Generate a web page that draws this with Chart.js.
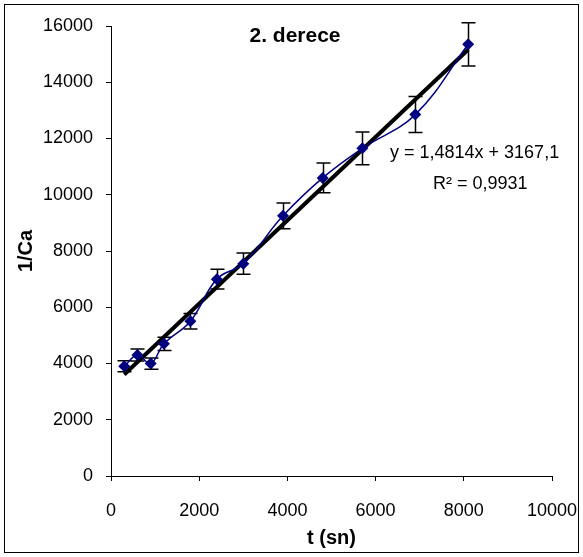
<!DOCTYPE html>
<html>
<head>
<meta charset="utf-8">
<script src="https://cdn.jsdelivr.net/npm/chart.js@4.4.1/dist/chart.umd.min.js"></script>
<style>
  html, body { margin: 0; padding: 0; background: #fff; }
  canvas { display: block; }
</style>
</head>
<body>
<canvas id="grafik" width="583" height="557"></canvas>
<script>
// veriler
const sureler = [300, 600, 900, 1200, 1800, 2400, 3000, 3900, 4800, 5700, 6900, 8100];
const tersCa = [3900, 4300, 4000, 4700, 5500, 7000, 7550, 9250, 10600, 11650, 12850, 15350];
const hatalar = [195, 215, 200, 235, 275, 350, 380, 460, 530, 580, 640, 770];
const xTicks = [0, 2000, 4000, 6000, 8000, 10000];
const yTicks = [0, 2000, 4000, 6000, 8000, 10000, 12000, 14000, 16000];
// eğilim çizgisi (y = 1,4814x + 3167,1)
const egim = 1.4814;
const sabit = 3167.1;

const noktalar = sureler.map((t, i) => ({ x: t, y: tersCa[i] }));
const xIlk = sureler[0], xSon = sureler[sureler.length - 1];
const egilim = [
    { x: xIlk, y: egim * xIlk + sabit },
    { x: xSon, y: egim * xSon + sabit }
];

const FONT = "'Liberation Sans', Arial, sans-serif";

// hata çubukları
const hataCubuklari = {
    id: 'hataCubuklari',
    beforeDatasetsDraw(chart) {
        const ctx = chart.ctx, xs = chart.scales.x, ys = chart.scales.y;
        ctx.save();
        ctx.strokeStyle = '#000';
        ctx.lineWidth = 1.5;
        sureler.forEach((t, i) => {
            const px = Math.round(xs.getPixelForValue(t)) + 0.5;
            const ust = ys.getPixelForValue(tersCa[i] + hatalar[i]);
            const alt = ys.getPixelForValue(tersCa[i] - hatalar[i]);
            ctx.beginPath();
            ctx.moveTo(px, ust); ctx.lineTo(px, alt);
            ctx.moveTo(px - 7, ust); ctx.lineTo(px + 7, ust);
            ctx.moveTo(px - 7, alt); ctx.lineTo(px + 7, alt);
            ctx.stroke();
        });
        ctx.restore();
    }
};

// başlık, denklem ve çerçeve
const yazilar = {
    id: 'yazilar',
    afterDraw(chart) {
        const ctx = chart.ctx;
        ctx.save();
        ctx.fillStyle = '#000';
        ctx.textBaseline = 'middle';
        ctx.font = 'bold 21px ' + FONT;
        ctx.textAlign = 'center';
        ctx.fillText('2. derece', 295, 36);
        ctx.font = '18px ' + FONT;
        ctx.textAlign = 'left';
        ctx.fillText('y = 1,4814x + 3167,1', 390, 153);
        ctx.fillText('R² = 0,9931', 433, 184);
        ctx.strokeStyle = '#000';
        ctx.lineWidth = 1;
        ctx.strokeRect(4.5, 4.5, 574, 548);
        ctx.restore();
    }
};

new Chart(document.getElementById('grafik'), {
    type: 'scatter',
    data: {
        datasets: [{
            label: '1/Ca',
            data: noktalar,
            showLine: true,
            tension: 0.4,
            borderColor: '#000080',
            borderWidth: 1.5,
            backgroundColor: '#000080',
            pointStyle: 'rectRot',
            pointRadius: 6,
            pointBorderWidth: 0
        },
        {
            label: 'Doğrusal',
            data: egilim,
            showLine: true,
            borderColor: '#000',
            borderWidth: 4,
            pointRadius: 0
        }]
    },
    plugins: [hataCubuklari, yazilar],
    options: {
        responsive: false,
        animation: false,
        layout: { padding: { top: 26, right: 31, left: 0, bottom: 0 } },
        plugins: {
            legend: { display: false },
            tooltip: { enabled: false }
        },
        scales: {
            x: {
                type: 'linear',
                min: 0,
                max: 10000,
                afterBuildTicks: s => { s.ticks = xTicks.map(v => ({ value: v })); },
                afterFit: s => { s.height = 81; s.paddingRight = 0; s.paddingLeft = 0; },
                grid: { drawOnChartArea: false, drawTicks: true, tickLength: 5, tickColor: '#000' },
                border: { display: true, color: '#000', width: 1 },
                ticks: {
                    color: '#000', padding: 19, maxRotation: 0,
                    font: { family: FONT, size: 18 },
                    callback: v => String(v)
                },
                title: {
                    display: true,
                    text: 't (sn)',
                    color: '#000',
                    padding: { top: 0, bottom: 7 },
                    font: { family: FONT, size: 20, weight: 'bold' }
                }
            },
            y: {
                type: 'linear',
                min: 0,
                max: 16000,
                afterBuildTicks: s => { s.ticks = yTicks.map(v => ({ value: v })); },
                afterFit: s => { s.width = 111; s.paddingTop = 0; s.paddingBottom = 0; },
                grid: { drawOnChartArea: false, drawTicks: true, tickLength: 5, tickColor: '#000' },
                border: { display: true, color: '#000', width: 1 },
                ticks: {
                    color: '#000', padding: 13,
                    font: { family: FONT, size: 18 },
                    callback: v => String(v)
                },
                title: {
                    display: true,
                    text: '1/Ca',
                    color: '#000',
                    padding: { top: 14, bottom: 0 },
                    font: { family: FONT, size: 20, weight: 'bold' }
                }
            }
        }
    }
});
</script>
</body>
</html>
